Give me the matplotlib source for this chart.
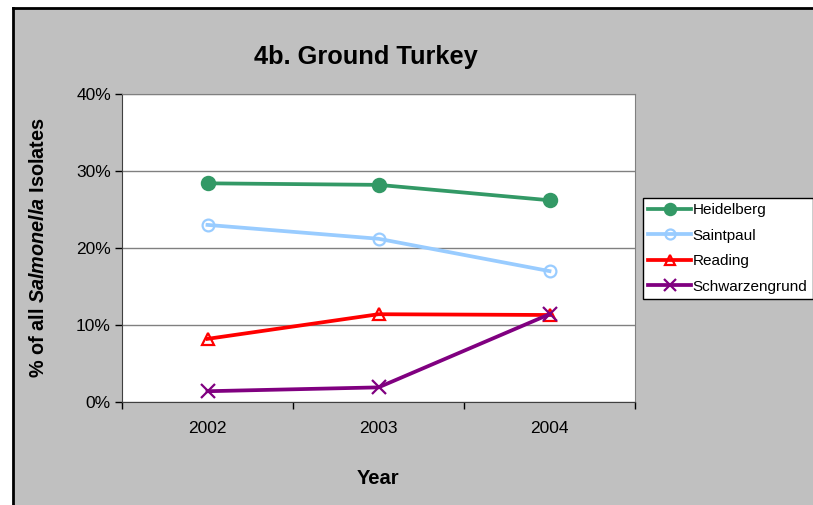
import matplotlib.pyplot as plt
from matplotlib.patches import Rectangle
from matplotlib.lines import Line2D
from matplotlib.ticker import FixedLocator, FuncFormatter

plt.rcParams['font.family'] = ['Liberation Sans', 'DejaVu Sans']
plt.rcParams['mathtext.fontset'] = 'custom'
plt.rcParams['mathtext.it'] = 'Liberation Sans:italic:bold'
plt.rcParams['mathtext.rm'] = 'Liberation Sans:bold'

# data (percent of all Salmonella isolates)
years = ["2002", "2003", "2004"]
heidelberg = [28.4, 28.2, 26.2]
saintpaul = [23.0, 21.2, 17.0]
reading = [8.2, 11.4, 11.3]
schwarzengrund = [1.4, 1.9, 11.4]

series = [
    ("Heidelberg", heidelberg, "#339966", "o", "#339966"),
    ("Saintpaul", saintpaul, "#99CCFF", "o", "none"),
    ("Reading", reading, "#FF0000", "^", "none"),
    ("Schwarzengrund", schwarzengrund, "#800080", "x", "#800080"),
]

fig = plt.figure(figsize=(8.13, 5.05), dpi=100)
fig.patch.set_facecolor("white")

# gray chart area with black border on left/top
W, H = 813, 505
bg = Rectangle((13 / W, 0), 1 - 13 / W, 1 - 8 / H, transform=fig.transFigure,
               facecolor="#C0C0C0", edgecolor="none", zorder=-10)
fig.patches.append(bg)
fig.add_artist(Line2D([13 / W, 13 / W], [0, 1 - 8 / H], color="black", lw=2, transform=fig.transFigure))
fig.add_artist(Line2D([13 / W, 1], [1 - 8 / H, 1 - 8 / H], color="black", lw=2, transform=fig.transFigure))

ax = fig.add_axes([122 / W, 1 - 402 / H, (635 - 122) / W, (402 - 94) / H])
ax.set_facecolor("white")

x = list(range(len(years)))
handles = []
for name, vals, col, mk, mfc in series:
    ms = {"o": 9.5, "^": 8, "x": 10}[mk]
    if name == "Saintpaul":
        ms = 8.5
    h, = ax.plot(x, vals, color=col, lw=2.7, marker=mk, markersize=ms,
                 markerfacecolor=mfc, markeredgecolor=col, markeredgewidth=1.6,
                 label=name, zorder=3)
    handles.append(h)

ax.set_xlim(-0.5, 2.5)
ax.set_ylim(0, 40)

# y axis
ax.set_yticks([0, 10, 20, 30, 40])
ax.yaxis.set_major_formatter(FuncFormatter(lambda v, p: f"{v:.0f}%"))
ax.tick_params(axis="y", direction="out", length=5, width=1, labelsize=12.5, pad=3)
ax.grid(axis="y", color="#808080", lw=1, zorder=1)

# x axis: ticks on category boundaries, labels at centres
ax.xaxis.set_major_locator(FixedLocator([-0.5, 0.5, 1.5, 2.5]))
ax.xaxis.set_major_formatter(FuncFormatter(lambda v, p: ""))
ax.xaxis.set_minor_locator(FixedLocator(x))
ax.set_xticklabels(years, minor=True)
ax.tick_params(axis="x", which="major", direction="out", length=5, width=1)
ax.tick_params(axis="x", which="minor", length=0, labelsize=12.5, pad=14)

for s in ["top", "right"]:
    ax.spines[s].set_color("#808080")
for s in ["left", "bottom"]:
    ax.spines[s].set_color("#404040")

fig.text(366 / W, 1 - 57 / H, "4b. Ground Turkey", ha="center", va="center",
         fontsize=18.3, fontweight="bold")
fig.text(378 / W, 1 - 478 / H, "Year", ha="center", va="center",
         fontsize=14.5, fontweight="bold")
fig.text(38 / W, 1 - 248 / H, r"% of all $Salmonella$ Isolates", ha="center",
         va="center", rotation=90, fontsize=14.3, fontweight="bold")

leg = fig.legend(handles=handles, loc="upper left",
                 bbox_to_anchor=(643 / W, 1 - 198 / H), fontsize=11,
                 frameon=True, fancybox=False, edgecolor="black",
                 facecolor="white", framealpha=1, markerscale=0.85,
                 handlelength=2.8, handletextpad=0.1, borderpad=0.35,
                 labelspacing=0.75, borderaxespad=0)
leg.get_frame().set_linewidth(1)

plt.savefig("out.png", dpi=100)
